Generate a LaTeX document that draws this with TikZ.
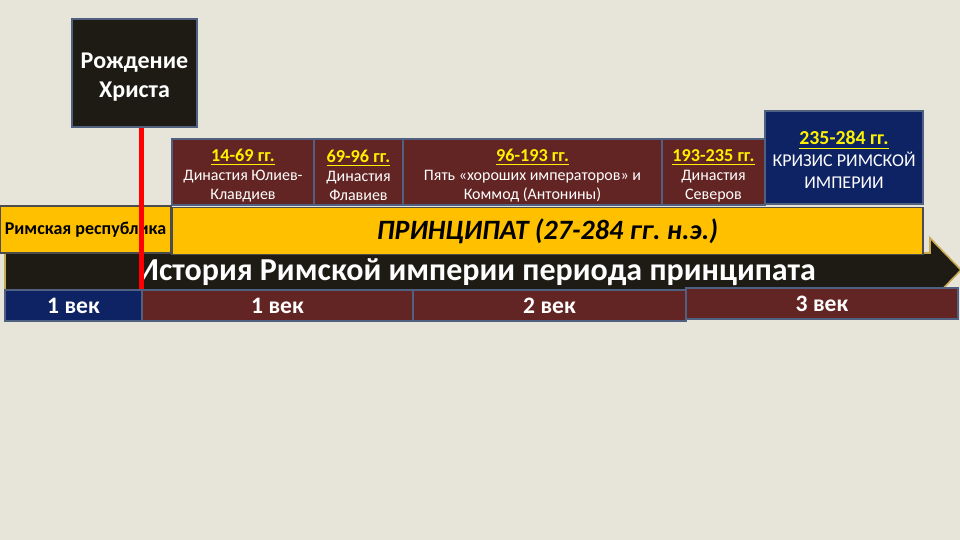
\documentclass[tikz,border=0pt]{standalone}
\usepackage{fontspec}
\setmainfont{Carlito}
\frenchspacing
\begin{document}
\begin{tikzpicture}[x=0.5pt,y=-0.5pt]
\definecolor{bg}{RGB}{231,228,218}
\definecolor{maroon}{RGB}{99,37,35}
\definecolor{navy}{RGB}{14,35,100}
\definecolor{edge}{RGB}{80,96,128}
\definecolor{gold}{RGB}{255,192,0}
\definecolor{darkband}{RGB}{30,27,20}
\definecolor{datey}{RGB}{255,242,0}
\definecolor{tan}{RGB}{200,170,80}
\tikzset{
  box/.style={draw=edge, line width=1pt, inner sep=0pt, align=center, text=white},
  dyn/.style={box, fill=maroon, minimum height=33pt, font=\fontsize{8}{9.5}\selectfont},
  cent/.style={box, fill=maroon, minimum height=15.5pt, font=\fontsize{11.8}{13}\selectfont\bfseries},
  ybar/.style={draw=black!70, line width=0.8pt, fill=gold, inner sep=0pt, minimum height=23.5pt, text=black},
  redline/.style={draw=red, line width=2.5pt}
}
\newcommand{\dt}[1]{{\fontsize{9.1}{10}\selectfont\bfseries\rule{0pt}{10pt}\textcolor{datey}{\underline{#1}}}}
\fill[bg] (0,0) rectangle (960,540);
\useasboundingbox (0,0) rectangle (960,540);

% Birth of Christ
\node[box, fill=darkband, minimum width=62.5pt, minimum height=54pt,
      font=\fontsize{12}{14.5}\selectfont\bfseries] (christ) at (134.5,73) {\rule{0pt}{11.5pt}Рождение\\Христа};

% dynasty boxes
\node[dyn, minimum width=71pt] (d1) at (243,172) {\dt{14-69 гг.}\\Династия Юлиев-\\Клавдиев};
\node[dyn, minimum width=44.5pt] (d2) at (358.5,172) {\dt{69-96 гг.}\\Династия\\Флавиев};
\node[dyn, minimum width=129.5pt] (d3) at (532.5,172) {\dt{96-193 гг.}\\Пять «хороших императоров» и\\Коммод (Антонины)};
\node[dyn, minimum width=51.5pt] (d4) at (713.5,172) {\dt{193-235 гг.}\\Династия\\Северов};
\node[box, fill=navy, minimum width=79pt, minimum height=46.5pt,
      font=\fontsize{9}{11}\selectfont] (d5) at (844,157.5)
      {{\fontsize{9.9}{11.5}\selectfont\bfseries\rule{0pt}{9.5pt}\textcolor{datey}{\underline{235-284 гг.}}}\\КРИЗИС РИМСКОЙ\\ИМПЕРИИ};

% arrow band
\filldraw[fill=darkband, draw=tan, line width=0.8pt]
  (5,253) -- (930,253) -- (930,238) -- (961,270) -- (930,302) -- (930,290) -- (5,290) -- cycle;
\node[text=white, font=\fontsize{16}{18}\selectfont\bfseries, inner sep=0pt] (hist) at (477,272)
  {История Римской империи периода принципата};

% yellow bars
\node[ybar, minimum width=85.5pt, font=\fontsize{9}{10}\selectfont\bfseries] (rep) at (85.5,229.5) {Римская республика};
\node[ybar, minimum width=375.5pt, font=\fontsize{14}{16}\selectfont\bfseries\itshape] (princ) at (547.5,231) {ПРИНЦИПАТ (27-284 гг. н.э.)};

% centuries
\node[cent, fill=navy, minimum width=68.5pt] (c0) at (73.5,305.5) {1 век};
\node[cent, minimum width=135.5pt] (c1) at (277.5,305.5) {1 век};
\node[cent, minimum width=136.5pt] (c2) at (549.5,306) {2 век};
\node[cent, minimum width=136pt] (c3) at (822,304) {3 век};

% red line
\draw[redline] (christ.south -| c1.west) -- (c1.north west);
\end{tikzpicture}
\end{document}
